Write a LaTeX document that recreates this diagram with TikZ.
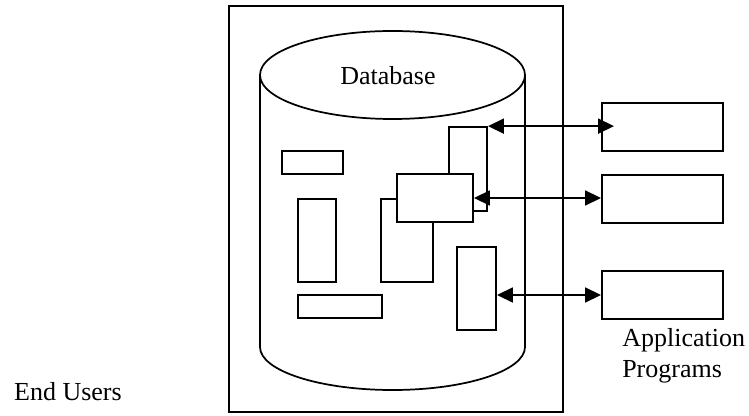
\documentclass[tikz,border=0pt]{standalone}
\usepackage{fontspec}
\setmainfont{Liberation Serif}
\usetikzlibrary{arrows.meta,fit}
\begin{document}
\begin{tikzpicture}[x=0.75pt,y=-0.75pt,
  lbl/.style={font=\fontsize{19.5}{22.5}\selectfont, inner sep=0pt},
  blk/.style={draw, line width=1.3pt, fill=white, inner sep=0pt, rectangle},
  frame/.style={draw, line width=1.5pt, inner sep=0pt, rectangle},
  cyl/.style={line width=1.3pt},
  arr/.style={line width=1.9pt, {Triangle[length=12pt,width=11pt]}-{Triangle[length=12pt,width=11pt]}}]
\useasboundingbox (0,0) rectangle (749,416);
% outer frame
\node[frame, fit={(229,6)(563,412)}] (outer) {};
% cylinder
\draw[cyl] (392.5,75) ellipse [x radius=132.5, y radius=44];
\draw[cyl] (260,75) -- (260,347) arc[start angle=180, end angle=0, x radius=132.5, y radius=43] -- (525,75);
\node[lbl, anchor=base] (db) at (388,85) {Database};
% inner blocks
\node[blk, fit={(282,151)(343,174)}] (r1) {};
\node[blk, fit={(298,199)(336,282)}] (r2) {};
\node[blk, fit={(298,295)(382,318)}] (r3) {};
\node[blk, fit={(381,199)(433,282)}] (r4) {};
\node[blk, fit={(449,127)(487,211)}] (r5) {};
\node[blk, fit={(397,174)(473,222)}] (m) {};
\node[blk, fit={(457,247)(496,330)}] (r6) {};
% application program boxes
\node[blk, fit={(602,103)(723,151)}] (p1) {};
\node[blk, fit={(602,175)(723,223)}] (p2) {};
\node[blk, fit={(602,271)(723,319)}] (p3) {};
\coordinate (t1) at ([xshift=9.75pt]p1.west);
% arrows
\draw[arr] (r5.north east) -- (r5.north east -| t1);
\draw[arr] (m.east) -- (m.east -| p2.west);
\draw[arr] (r6.east |- p3.west) -- (p3.west);
% labels
\node[lbl, anchor=base east] (eu) at (122,400) {End Users};
\node[lbl, anchor=base west, align=left] (ap) at (622,377) {Application\\Programs};
\end{tikzpicture}
\end{document}
